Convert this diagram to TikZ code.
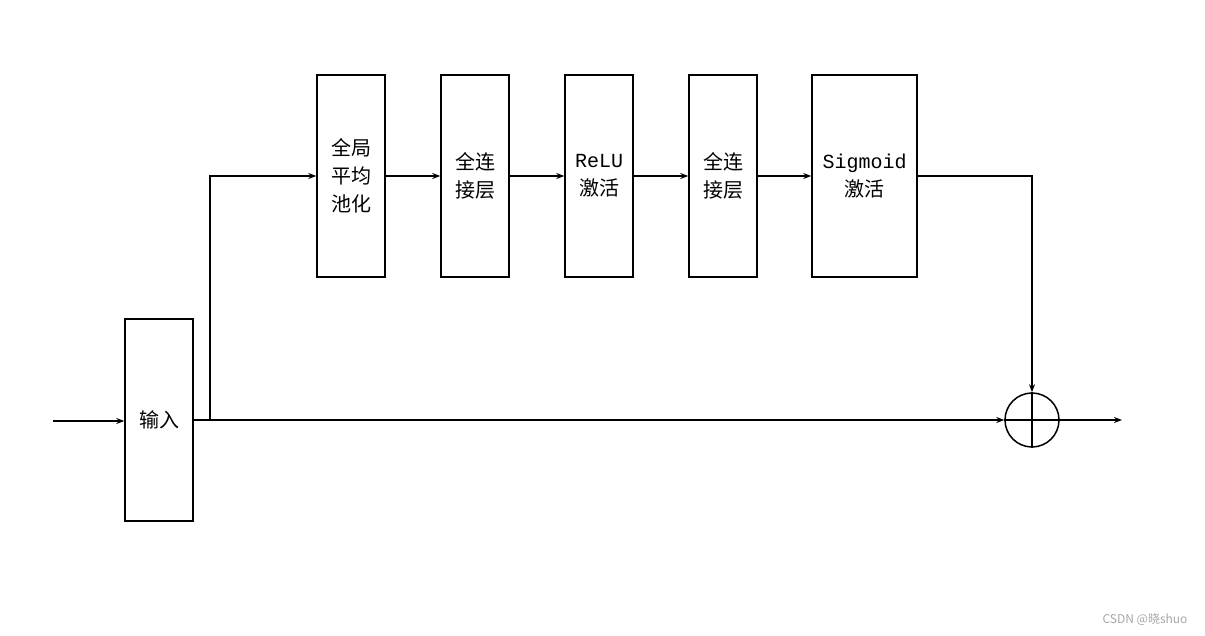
\documentclass[tikz,border=0pt]{standalone}
\usepackage{fontspec}
\newfontfamily\cjk{Noto Sans CJK SC}
\newfontfamily\mono{Liberation Mono}
\usetikzlibrary{arrows.meta}
\begin{document}
\begin{tikzpicture}[x=1pt,y=-1pt,
  blk/.style={draw,line width=1.5pt,inner sep=0pt,align=center,font=\fontsize{20}{28}\selectfont\cjk},
  arr/.style={line width=1.5pt,-{Stealth[length=8pt,width=6pt]}},
  ln/.style={line width=1.5pt}]
\useasboundingbox (0,0) rectangle (1205,636);
\node[blk,minimum width=68pt,minimum height=202pt] (in) at (159,420) {输入};
\node[blk,minimum width=68pt,minimum height=202pt] (gap) at (351,176) {全局\\平均\\池化};
\node[blk,minimum width=68pt,minimum height=202pt] (fc1) at (475,176) {全连\\接层};
\node[blk,minimum width=68pt,minimum height=202pt] (relu) at (599,176) {{\mono ReLU}\\激活};
\node[blk,minimum width=68pt,minimum height=202pt] (fc2) at (723,176) {全连\\接层};
\node[blk,minimum width=105pt,minimum height=202pt] (sig) at (864.5,176) {{\mono Sigmoid}\\激活};
\node[draw,circle,line width=1.5pt,minimum size=54pt,inner sep=0pt] (add) at (1032,420) {};
\draw[ln] (add.north) -- (add.south) (add.west) -- (add.east);
\coordinate (s) at (53,421);
\coordinate (e) at (1122,420);
\coordinate (br) at (210,420);
\draw[arr] (s) -- (in.west|-s);
\draw[arr] (in.east|-br) -- (add.west);
\draw[arr] (br) |- (gap.west);
\draw[arr] (gap) -- (fc1);
\draw[arr] (fc1) -- (relu);
\draw[arr] (relu) -- (fc2);
\draw[arr] (fc2) -- (sig);
\draw[arr] (sig.east) -| (add.north);
\draw[arr] (add.east) -- (e);
\node[text=gray!70,font=\fontsize{12}{14}\selectfont\cjk] (wm) at (1145,620) {CSDN @晓shuo};
\end{tikzpicture}
\end{document}
